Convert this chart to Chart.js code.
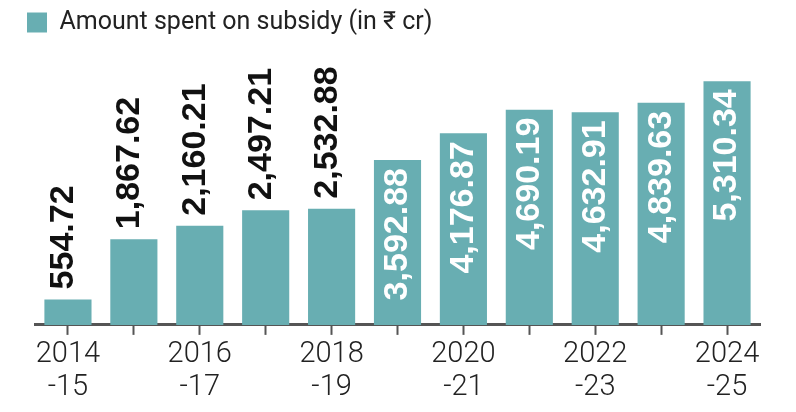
<!DOCTYPE html>
<html>
<head>
<meta charset="utf-8">
<script src="https://cdn.jsdelivr.net/npm/chart.js@4/dist/chart.umd.min.js"></script>
<style>
  html, body { margin: 0; padding: 0; background: #ffffff; }
  #wrap { width: 796px; height: 412px; }
</style>
</head>
<body>
<div id="wrap"><canvas id="c" width="796" height="412"></canvas></div>
<script>
const categories = ['2014-15','2015-16','2016-17','2017-18','2018-19','2019-20','2020-21','2021-22','2022-23','2023-24','2024-25'];
const subsidySpent = [554.72, 1867.62, 2160.21, 2497.21, 2532.88, 3592.88, 4176.87, 4690.19, 4632.91, 4839.63, 5310.34];
const seriesName = 'Amount spent on subsidy (in ₹ cr)';
const insideThreshold = 3000;

const fmt = v => v.toLocaleString('en-US', { minimumFractionDigits: 2, maximumFractionDigits: 2 });

const valueLabels = {
  id: 'valueLabels',
  afterDatasetsDraw(chart) {
    const ctx = chart.ctx;
    const meta = chart.getDatasetMeta(0);
    const data = chart.data.datasets[0].data;
    ctx.save();
    ctx.font = 'bold 34px "Liberation Sans", Arial, sans-serif';
    ctx.textBaseline = 'middle';
    meta.data.forEach((bar, i) => {
      const v = data[i];
      const inside = v > insideThreshold;
      ctx.save();
      if (inside) {
        ctx.translate(bar.x - 1, bar.y + 8);
        ctx.rotate(-Math.PI / 2);
        ctx.textAlign = 'right';
        ctx.fillStyle = '#ffffff';
      } else {
        ctx.translate(bar.x - 5, bar.y - 10);
        ctx.rotate(-Math.PI / 2);
        ctx.textAlign = 'left';
        ctx.fillStyle = '#111111';
      }
      ctx.fillText(fmt(v), 0, 1);
      ctx.restore();
    });
    ctx.restore();
  }
};

new Chart(document.getElementById('c'), {
  type: 'bar',
  data: {
    labels: categories,
    datasets: [{
      label: seriesName,
      data: subsidySpent,
      backgroundColor: '#68aeb2',
      borderWidth: 0,
      categoryPercentage: 1,
      barPercentage: 0.715
    }]
  },
  options: {
    responsive: false,
    animation: false,
    layout: { padding: { left: 17, right: 36, top: 0, bottom: 5 } },
    plugins: {
      legend: {
        display: true,
        position: 'top',
        align: 'start',
        labels: {
          boxWidth: 20,
          boxHeight: 20,
          padding: 10,
          color: '#222222',
          font: { family: 'Roboto, "Liberation Sans", sans-serif', size: 25 }
        }
      },
      tooltip: { enabled: false }
    },
    scales: {
      x: {
        grid: {
          display: true,
          offset: false,
          drawOnChartArea: false,
          drawTicks: true,
          tickLength: 10,
          tickWidth: 2,
          tickColor: '#555555'
        },
        border: { display: true, color: '#555555', width: 3 },
        ticks: {
          autoSkip: false,
          maxRotation: 0,
          minRotation: 0,
          padding: 3,
          color: '#222222',
          font: { family: 'Roboto, "Liberation Sans", sans-serif', size: 29, weight: '300', lineHeight: 1.14 },
          callback: function (value, index) {
            if (index % 2 !== 0) return '';
            const parts = categories[index].split('-');
            return [parts[0], '-' + parts[1]];
          }
        }
      },
      y: {
        display: true,
        min: 0,
        max: 6100,
        grid: { display: false },
        border: { display: false },
        ticks: { display: false },
        afterFit(scale) { scale.width = 18; }
      }
    }
  },
  plugins: [valueLabels]
});
</script>
</body>
</html>
